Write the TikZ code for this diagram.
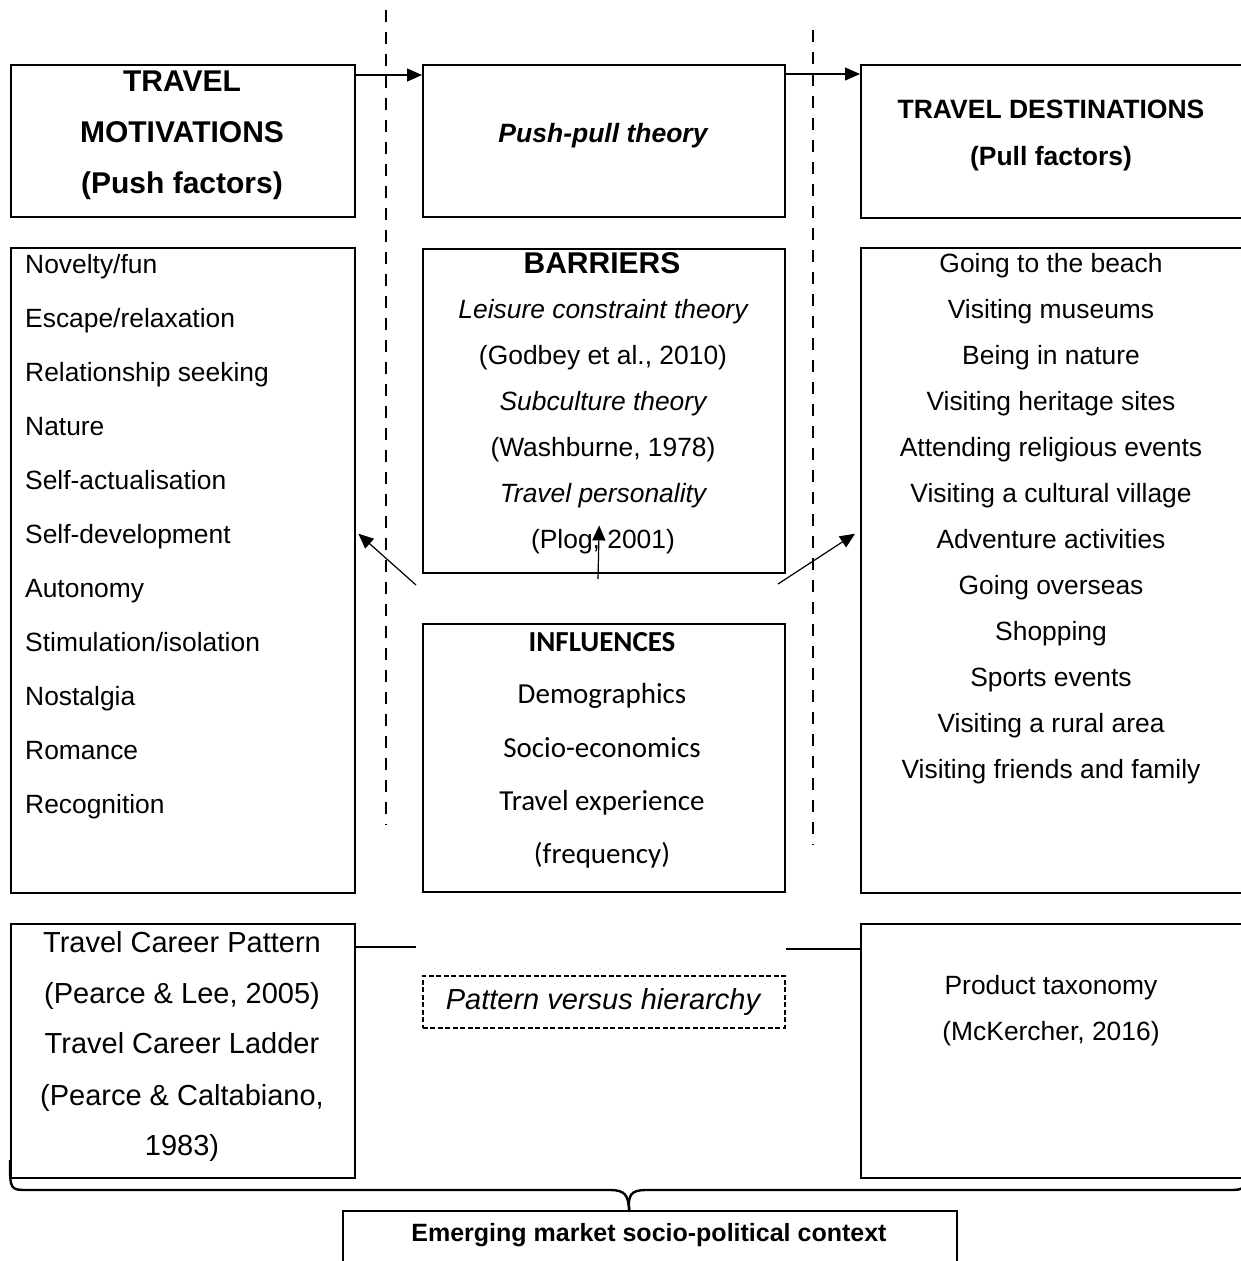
\documentclass[tikz,border=0pt]{standalone}
\usepackage{fontspec}
\setmainfont{Liberation Sans}
\newfontfamily\calibfont{Carlito}
\usetikzlibrary{arrows.meta,calc}
\begin{document}
\begin{tikzpicture}[x=1pt,y=-1pt,
  frame/.style={draw, line width=2.4pt, inner sep=0pt, anchor=north west},
  dframe/.style={frame, line width=1.7pt, dash pattern=on 5pt off 2.5pt},
  fs/.style={font=\fontsize{#1}{#1}\selectfont},
  txt/.style={inner sep=0pt, anchor=base, fs=26.4},
  ltxt/.style={txt, anchor=base west},
  btxt/.style={txt, font=\fontsize{#1}{#1}\selectfont\bfseries},
  itxt/.style={txt, font=\fontsize{26.4}{26.4}\selectfont\itshape},
  ctxt/.style={txt, font=\fontsize{29}{29}\selectfont\calibfont},
  arr/.style={line width=1.2pt, -{Triangle[length=15pt,width=13pt]}},
  link/.style={line width=2pt},
  divider/.style={line width=2.4pt, dash pattern=on 12pt off 10pt},
  bracepath/.style={line width=2.4pt}]
\useasboundingbox (0,0) rectangle (1241,1261);
\clip (0,0) rectangle (1241,1261);

% ---- boxes ----
\node[frame, minimum width=344pt, minimum height=152pt] (mot)  at (10,64)   {};
\node[frame, minimum width=362pt, minimum height=152pt] (pp)   at (422,64)  {};
\node[frame, minimum width=400pt, minimum height=153pt] (dest) at (860,64)  {};
\node[frame, minimum width=344pt, minimum height=645pt] (push) at (10,247)  {};
\node[frame, minimum width=362pt, minimum height=324pt] (barr) at (422,248) {};
\node[frame, minimum width=362pt, minimum height=268pt] (infl) at (422,623) {};
\node[frame, minimum width=400pt, minimum height=645pt] (pull) at (860,247) {};
\node[frame, minimum width=344pt, minimum height=254pt] (career) at (10,923) {};
\node[frame, minimum width=400pt, minimum height=254pt] (prod) at (860,923) {};
\node[dframe, minimum width=362pt, minimum height=52pt] (pvh) at (422,975) {};
\node[frame, minimum width=614pt, minimum height=90pt] (ctx) at (342,1210) {};

% ---- headings ----
\node[btxt=30] (m1) at (182,91)  {TRAVEL};
\node[btxt=30] (m2) at (182,142) {MOTIVATIONS};
\node[btxt=30] (m3) at (182,193) {(Push factors)};
\node[txt, font=\fontsize{26.5}{26.5}\selectfont\bfseries\itshape] (ppt) at (603,142) {Push-pull theory};
\node[btxt=26.5] (d1) at (1051,118) {TRAVEL DESTINATIONS};
\node[btxt=26.5] (d2) at (1051,165) {(Pull factors)};

% ---- push factors ----
\foreach \t [count=\i] in {Novelty/fun, Escape/relaxation, Relationship seeking,
  Nature, Self-actualisation, Self-development, Autonomy,
  Stimulation/isolation, Nostalgia, Romance, Recognition}
  \node[ltxt] (push\i) at (25,{273+54*(\i-1)}) {\t};

% ---- pull factors ----
\foreach \t [count=\i] in {Going to the beach, Visiting museums, Being in nature,
  Visiting heritage sites, Attending religious events, Visiting a cultural village,
  Adventure activities, Going overseas, Shopping, Sports events,
  Visiting a rural area, Visiting friends and family}
  \node[txt] (pull\i) at (1051,{272+46*(\i-1)}) {\t};

% ---- barriers ----
\node[btxt=30] (b1) at (602,273) {BARRIERS};
\node[itxt] (b2) at (603,318) {Leisure constraint theory};
\node[txt]  (b3) at (603,364) {(Godbey et al., 2010)};
\node[itxt] (b4) at (603,410) {Subculture theory};
\node[txt]  (b5) at (603,456) {(Washburne, 1978)};
\node[itxt] (b6) at (603,502) {Travel personality};
\node[txt]  (b7) at (603,548) {(Plog, 2001)};

% ---- influences ----
\node[ctxt, font=\fontsize{29}{29}\selectfont\calibfont\bfseries] (i1) at (602,651) {INFLUENCES};
\node[ctxt] (i2) at (602,703) {Demographics};
\node[ctxt] (i3) at (602,757) {Socio-economics};
\node[ctxt] (i4) at (602,810) {Travel experience};
\node[ctxt] (i5) at (602,863) {(frequency)};

% ---- travel career ----
\node[txt, fs=29] (c1) at (182,952)  {Travel Career Pattern};
\node[txt, fs=29] (c2) at (182,1003) {(Pearce \& Lee, 2005)};
\node[txt, fs=29] (c3) at (182,1053) {Travel Career Ladder};
\node[txt, fs=29] (c4) at (182,1105) {(Pearce \& Caltabiano,};
\node[txt, fs=29] (c5) at (182,1155) {1983)};

\node[txt, font=\fontsize{29}{29}\selectfont\itshape] (pvht) at (603,1009) {Pattern versus hierarchy};

\node[txt] (p1) at (1051,994)  {Product taxonomy};
\node[txt] (p2) at (1051,1040) {(McKercher, 2016)};

\node[btxt=25] (ctxt) at (649,1241) {Emerging market socio-political context};

% ---- dashed dividers ----
\coordinate (divLt) at (386,10);  \coordinate (divLb) at (386,825);
\coordinate (divRt) at (813,30);  \coordinate (divRb) at (813,845);
\draw[divider] (divLt) -- (divLb);
\draw[divider] (divRt) -- (divRb);

% ---- arrows ----
\draw[arr] ([yshift=-11pt]mot.north east) -- ([yshift=-11pt]pp.north west);
\draw[arr] ([yshift=-10pt]pp.north east) -- ([yshift=-10pt]dest.north west);

\coordinate (hubL) at (416,585);
\coordinate (hubC) at (598,579);
\coordinate (hubR) at (778,584);
\draw[arr] (hubL) -- ([shift={(2,-37)}]push.east);
\draw[arr] (hubC) -- ([shift={(-5,-49)}]barr.south);
\draw[arr] (hubR) -- ([shift={(-5,-37)}]pull.west);

% ---- links towards the comparison ----
\coordinate (pvL) at (416,947);
\coordinate (pvR) at (786,949);
\draw[link] ([yshift=-24pt]career.north east) -- (pvL);
\draw[link] (pvR) -- ([yshift=-26pt]prod.north west);

% ---- brace over the context box ----
\coordinate (tip) at ([xshift=-21pt]ctx.north);
\draw[bracepath] (10,1160) .. controls (10,1190) and (10,1190) .. (28,1190)
  -- (610,1190) .. controls (626,1190) and (628,1196) .. (tip);
\draw[bracepath] (1246,1160) .. controls (1246,1190) and (1246,1190) .. (1228,1190)
  -- (646,1190) .. controls (630,1190) and (628,1196) .. (tip);
\end{tikzpicture}
\end{document}
